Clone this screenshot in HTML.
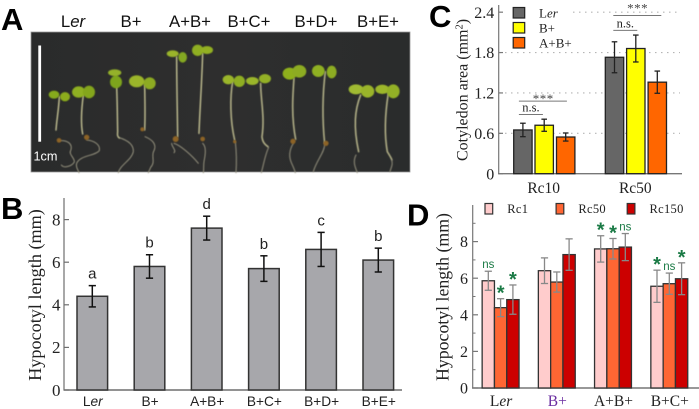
<!DOCTYPE html>
<html>
<head>
<meta charset="utf-8">
<style>
html,body{margin:0;padding:0;background:#fff}
svg{display:block}
.serif{font-family:"Liberation Serif",serif}
.sans{font-family:"Liberation Sans",sans-serif}
</style>
</head>
<body>
<svg id="fig" xmlns="http://www.w3.org/2000/svg" width="699" height="409" viewBox="0 0 699 409">
<defs>
<filter id="soft" x="-10%" y="-10%" width="120%" height="120%"><feGaussianBlur stdDeviation="1.6"/></filter>
<linearGradient id="bg" x1="0" y1="0" x2="1" y2="0"><stop offset="0" stop-color="#2a2b2b"/><stop offset="0.5" stop-color="#2e2e2e"/><stop offset="1" stop-color="#2a2c2c"/></linearGradient>
</defs>
<rect width="699" height="409" fill="#fff"/>

<g>
<text class="sans" x="1" y="30" font-size="31" font-weight="bold">A</text>
<g class="sans" font-size="16.8" fill="#111" text-anchor="middle">
<text x="73" y="27">L<tspan font-style="italic">er</tspan></text>
<text x="131" y="27">B+</text>
<text x="190" y="27">A+B+</text>
<text x="249" y="27">B+C+</text>
<text x="316" y="27">B+D+</text>
<text x="378" y="27">B+E+</text>
</g>
<rect x="31" y="32" width="379" height="140" fill="url(#bg)" stroke="#999" stroke-width="0.8"/>
<g transform="translate(30 30) scale(0.3333)">
<g filter="url(#soft)" fill="none" stroke-linecap="round">
<!-- roots -->
<g stroke="#96937f" stroke-width="3">
<path d="M88 332C110 330 130 340 122 362C115 372 135 385 133 396C125 410 100 415 94 405"/>
<path d="M170 330C190 332 212 342 208 362C196 378 150 375 140 400C136 412 145 420 147 428"/>
<path d="M265 322C285 328 312 340 310 365C305 390 270 405 265 428"/>
<path d="M345 320C370 330 380 345 372 362C362 378 378 395 362 412L355 428"/>
<path d="M432 340C450 345 485 375 505 400M425 340C425 350 440 362 432 368"/>
<path d="M518 340C530 350 526 375 522 395C520 410 522 420 520 428"/>
</g>
<g stroke="#b9b78c" stroke-width="4.5">
<path d="M88 200C86 240 80 270 78 300"/>
<path d="M160 195C154 240 152 280 158 312"/>
<path d="M260 170C262 220 262 260 263 305C262 315 262 320 268 324"/>
<path d="M344 165C345 210 346 260 344 300"/>
<path d="M440 80C440 150 442 240 443 320"/>
<path d="M518 70C516 150 510 230 507 310"/>
</g>
<g transform="translate(570 0)" stroke="#b9b78c" stroke-width="4.5">
<path d="M38 155C30 200 30 270 44 330"/>
<path d="M122 160C122 210 135 260 126 320C128 340 138 345 144 350"/>
<path d="M222 145C218 200 214 260 227 328"/>
<path d="M316 125C308 190 306 260 314 340"/>
<path d="M422 195C404 240 400 290 416 365"/>
<path d="M505 190C494 260 494 320 502 365C508 375 512 380 516 390"/>
</g>
<g transform="translate(570 0)" stroke="#96937f" stroke-width="3">
<path d="M46 335C50 370 50 400 48 428"/>
<path d="M146 352C135 375 132 400 124 428"/>
<path d="M220 340C205 365 208 385 215 400C222 415 224 420 226 428"/>
<path d="M314 345C312 370 290 390 280 425"/>
<path d="M408 375C398 395 405 410 412 428"/>
<path d="M515 390C520 405 512 415 510 425"/>
</g>
</g>
<!-- seed coats -->
<g filter="url(#soft)" fill="#8d6425">
<circle cx="87" cy="331" r="7"/><circle cx="170" cy="322" r="8"/><circle cx="337" cy="298" r="6"/>
<circle cx="437" cy="327" r="9"/><circle cx="518" cy="327" r="7"/>
<circle cx="614" cy="335" r="5"/><circle cx="789" cy="334" r="8"/><circle cx="888" cy="340" r="8"/>
</g>
<!-- cotyledons -->
<g filter="url(#soft)" fill="#8fb01c">
<ellipse cx="72" cy="194" rx="16" ry="12" fill="#86aa1a"/><ellipse cx="105" cy="200" rx="15" ry="14" fill="#8cac1e"/>
<ellipse cx="146" cy="186" rx="20" ry="17" fill="#8fb020"/><ellipse cx="177" cy="186" rx="18" ry="19" fill="#84a61c"/>
<ellipse cx="254" cy="128" rx="20" ry="10" fill="#95b12a"/><ellipse cx="258" cy="156" rx="18" ry="19" fill="#7ea41c"/>
<ellipse cx="320" cy="154" rx="23" ry="18" fill="#9bb52a"/><ellipse cx="359" cy="160" rx="18" ry="18" fill="#8dab24"/>
<ellipse cx="428" cy="71" rx="18" ry="10" fill="#9ab42c"/><ellipse cx="458" cy="82" rx="13" ry="16" fill="#84a822"/>
<ellipse cx="503" cy="61" rx="17" ry="17" fill="#8fae22"/><ellipse cx="531" cy="60" rx="18" ry="12" fill="#93b024"/>
<g transform="translate(570 0)">
<ellipse cx="25" cy="149" rx="17" ry="14" fill="#9ab52c"/><ellipse cx="58" cy="154" rx="17" ry="17" fill="#8fae24"/>
<ellipse cx="97" cy="153" rx="19" ry="12" fill="#9ab52c"/><ellipse cx="135" cy="146" rx="18" ry="14" fill="#93b026"/>
<ellipse cx="209" cy="131" rx="21" ry="18" fill="#8fb01e"/><ellipse cx="238" cy="124" rx="21" ry="19" fill="#8dac22"/>
<ellipse cx="295" cy="123" rx="19" ry="18" fill="#8fb022"/><ellipse cx="335" cy="126" rx="15" ry="19" fill="#8dac24"/>
<ellipse cx="408" cy="178" rx="22" ry="15" fill="#a0ba30"/><ellipse cx="443" cy="184" rx="20" ry="19" fill="#9ab42a"/>
<ellipse cx="487" cy="178" rx="21" ry="14" fill="#9cb62c"/><ellipse cx="520" cy="184" rx="19" ry="21" fill="#93b026"/>
</g>
</g>
</g>
<rect x="38.3" y="45.5" width="2.8" height="96.2" fill="#fff"/>
<text class="sans" x="33.5" y="160.5" font-size="12.7" fill="#fff">1cm</text>
</g>

<text class="sans" x="1" y="219" font-size="31" font-weight="bold">B</text>
<text class="sans" x="429" y="27" font-size="31" font-weight="bold">C</text>
<text class="sans" x="407" y="225.5" font-size="31" font-weight="bold">D</text>
<g id="chartB"></g>
<g id="chartC"></g>
<g id="chartD"></g>
</svg>

<script>
// Panel B data
const bCategories = ['Ler', 'B+', 'A+B+', 'B+C+', 'B+D+', 'B+E+'];
const bValues = [4.4, 5.8, 7.6, 5.7, 6.6, 6.1];
const bErrors = [0.5, 0.55, 0.56, 0.6, 0.8, 0.56];
const bLetters = ['a', 'b', 'd', 'b', 'c', 'b'];
const bTicks = [0, 2, 4, 6, 8];

// Panel C data
const cGroups = ['Rc10', 'Rc50'];
const cSeries = ['Ler', 'B+', 'A+B+'];
const cLer = [0.65, 1.73];
const cB = [0.72, 1.86];
const cAB = [0.545, 1.36];
const cLerErr = [0.1, 0.23];
const cBErr = [0.09, 0.2];
const cABErr = [0.06, 0.165];
const cTicks = [0, 0.6, 1.2, 1.8, 2.4];

// Panel D data
const dCategories = ['Ler', 'B+', 'A+B+', 'B+C+'];
const dSeries = ['Rc1', 'Rc50', 'Rc150'];
const dRc1 = [5.86, 6.41, 7.6, 5.56];
const dRc50 = [4.39, 5.79, 7.61, 5.7];
const dRc150 = [4.83, 7.29, 7.7, 5.97];
const dRc1Err = [0.52, 0.7, 0.72, 0.88];
const dRc50Err = [0.49, 0.55, 0.56, 0.58];
const dRc150Err = [0.8, 0.86, 0.74, 0.87];
const dRc1Marks = ['ns', '', '*', '*'];
const dRc50Marks = ['*', '', '*', 'ns'];
const dRc150Marks = ['*', '', 'ns', '*'];
const dTicks = [0, 2, 4, 6, 8];

const NS = 'http://www.w3.org/2000/svg';
function mk(parent, tag, attrs, text) {
  const el = document.createElementNS(NS, tag);
  for (const k in attrs) el.setAttribute(k, attrs[k]);
  if (text !== undefined) el.textContent = text;
  parent.appendChild(el);
  return el;
}
function labelWithItalic(el, s) {
  if (s === 'Ler') {
    el.textContent = 'L';
    const t = document.createElementNS(NS, 'tspan');
    t.setAttribute('font-style', 'italic');
    t.textContent = 'er';
    el.appendChild(t);
  } else {
    el.textContent = s;
  }
}
function nameEl(el, name) {
  
  
  return el;
}
function errBar(parent, x, yTop, yBot, cap, color, w, name) {
  const g = mk(parent, 'g', {stroke: color, 'stroke-width': w, fill: 'none'});
  
  
  mk(g, 'line', {x1: x, x2: x, y1: yTop, y2: yBot});
  mk(g, 'line', {x1: x - cap, x2: x + cap, y1: yTop, y2: yTop});
  mk(g, 'line', {x1: x - cap, x2: x + cap, y1: yBot, y2: yBot});
}

/* ---------- Panel B ---------- */
(function () {
  const root = document.getElementById('chartB');
  const y = v => 390 - v * 21.3;
  const x = i => 92.3 + i * 57.2;
  const axisColor = '#6e6e6e';
  nameEl(mk(root, 'line', {x1: 64, x2: 64, y1: 198, y2: 390, stroke: axisColor, 'stroke-width': 1.2}), 'y-axis');
  nameEl(mk(root, 'line', {x1: 63.5, x2: 402, y1: 390, y2: 390, stroke: axisColor, 'stroke-width': 1.4}), 'x-axis');
  bTicks.forEach(t => {
    nameEl(mk(root, 'line', {x1: 64, x2: 69, y1: y(t), y2: y(t), stroke: axisColor, 'stroke-width': 1.2}), 'y-tick');
    nameEl(mk(root, 'text', {x: 60.5, y: y(t) + 5.8, 'font-size': 17, 'text-anchor': 'end', class: 'serif', fill: '#222'}, t), 'y-tick-label');
  });
  nameEl(mk(root, 'text', {transform: 'translate(41 295) rotate(-90)', 'font-size': 18.2, 'text-anchor': 'middle', class: 'serif', fill: '#222'}, 'Hypocotyl length (mm)'), 'y-axis-title');
  bValues.forEach((v, i) => {
    nameEl(mk(root, 'rect', {x: x(i) - 15.3, y: y(v), width: 30.6, height: 390 - y(v), fill: '#a7a7ab', stroke: '#333', 'stroke-width': 1.5}), 'bar-' + bCategories[i]);
    errBar(root, x(i), y(v + bErrors[i]), y(v - bErrors[i]), 3.6, '#111', 1.5, 'error-bar-' + bCategories[i]);
    nameEl(mk(root, 'text', {x: x(i), y: y(v + bErrors[i]) - 7, 'font-size': 15, 'text-anchor': 'middle', class: 'sans', fill: '#222'}, bLetters[i]), 'significance-letter');
    const lbl = mk(root, 'text', {x: x(i) + 0.5, y: 406, 'font-size': 13.7, 'text-anchor': 'middle', class: 'sans', fill: '#222'});
    labelWithItalic(lbl, bCategories[i]);
    nameEl(lbl, 'x-tick-label');
  });
})();

/* ---------- Panel C ---------- */
(function () {
  const root = document.getElementById('chartC');
  const y = v => 173.7 - v * 67.3;
  const groupX = [544.2, 635.8];
  const offs = [-21.3, 0, 21.5];
  const insets = [-4, -1.2];
  const ruleGaps = [18, 19.5];
  const starDrops = [1.7, -3];
  const colors = ['#666666', '#ffff00', '#ff6600'];
  const values = [cLer, cB, cAB];
  const errs = [cLerErr, cBErr, cABErr];
  const axisColor = '#777';
  cTicks.slice(1).forEach(t => {
    nameEl(mk(root, 'line', {x1: t === 2.4 ? 573 : 499, x2: 680, y1: y(t), y2: y(t), stroke: '#b5b5b5', 'stroke-width': 1.2, 'stroke-dasharray': '1.5 4.5'}), 'grid-line');
  });
  nameEl(mk(root, 'line', {x1: 498.7, x2: 498.7, y1: 5, y2: 173.7, stroke: axisColor, 'stroke-width': 1.2}), 'y-axis');
  nameEl(mk(root, 'line', {x1: 498, x2: 682, y1: 173.7, y2: 173.7, stroke: axisColor, 'stroke-width': 1.4}), 'x-axis');
  cTicks.forEach(t => {
    nameEl(mk(root, 'line', {x1: 498.7, x2: 503, y1: y(t), y2: y(t), stroke: axisColor, 'stroke-width': 1.2}), 'y-tick');
    nameEl(mk(root, 'text', {x: 494.3, y: y(t) + 5.6, 'font-size': 16, 'text-anchor': 'end', class: 'serif', fill: '#222'}, t === 0 ? '0' : t.toFixed(1)), 'y-tick-label');
  });
  const title = nameEl(mk(root, 'text', {transform: 'translate(467.5 90) rotate(-90)', 'font-size': 16, 'text-anchor': 'middle', class: 'serif', fill: '#222'}), 'y-axis-title');
  title.textContent = 'Cotyledon area (mm';
  const sup = document.createElementNS(NS, 'tspan');
  sup.setAttribute('dy', '-5');
  sup.setAttribute('font-size', '10.5');
  sup.textContent = '2';
  title.appendChild(sup);
  const close = document.createElementNS(NS, 'tspan');
  close.setAttribute('dy', '5');
  close.textContent = ')';
  title.appendChild(close);
  cGroups.forEach((g, gi) => {
    values.forEach((s, si) => {
      const cx = groupX[gi] + offs[si];
      nameEl(mk(root, 'rect', {x: cx - 9.2, y: y(s[gi]), width: 18.4, height: 173.7 - y(s[gi]), fill: colors[si], stroke: '#222', 'stroke-width': 1.3}), 'bar-' + g + '-' + cSeries[si]);
      errBar(root, cx, y(s[gi] + errs[si][gi]), y(s[gi] - errs[si][gi]), 2.8, '#222', 1.3, 'error-bar-' + g + '-' + cSeries[si]);
    });
    nameEl(mk(root, 'text', {x: groupX[gi] - 0.5, y: 193, 'font-size': 15.5, 'text-anchor': 'middle', class: 'serif', fill: '#222'}, g), 'x-tick-label');
    // significance brackets follow the tallest error bar of the group
    const base = y(cB[gi] + cBErr[gi]);
    const xL = groupX[gi] + offs[0] + insets[gi];
    nameEl(mk(root, 'line', {x1: xL, x2: xL + 24, y1: base - 4.7, y2: base - 4.7, stroke: '#777', 'stroke-width': 1}), 'ns-bracket');
    nameEl(mk(root, 'text', {x: xL + 12, y: base - 7.5, 'font-size': 12.5, 'text-anchor': 'middle', class: 'serif', fill: '#222'}, 'n.s.'), 'ns-label');
    nameEl(mk(root, 'line', {x1: xL, x2: xL + 48, y1: base - ruleGaps[gi], y2: base - ruleGaps[gi], stroke: '#777', 'stroke-width': 1}), 'significance-bracket');
    nameEl(mk(root, 'text', {x: xL + 24.3, y: base - ruleGaps[gi] + starDrops[gi], 'font-size': 13, 'text-anchor': 'middle', class: 'serif', fill: '#444', 'letter-spacing': '0.5'}, '***'), 'significance-stars');
  });
  cSeries.forEach((s, i) => {
    const ly = 7.5 + i * 15;
    nameEl(mk(root, 'rect', {x: 513.2, y: ly, width: 11.5, height: 10.5, fill: colors[i], stroke: '#222', 'stroke-width': 1.2}), 'legend-swatch-' + s);
    const t = mk(root, 'text', {x: 539, y: ly + 10, 'font-size': 13, class: 'serif', fill: '#222'});
    labelWithItalic(t, s);
    nameEl(t, 'legend-label-' + s);
  });
})();

/* ---------- Panel D ---------- */
(function () {
  const root = document.getElementById('chartD');
  const y = v => 388 - v * 18.3;
  const groupX = [500.6, 556.8, 613, 669.3];
  const offs = [-12.3, 0, 12.3];
  const colors = ['#ffcccc', '#ff6633', '#cc0000'];
  const values = [dRc1, dRc50, dRc150];
  const errs = [dRc1Err, dRc50Err, dRc150Err];
  const marks = [dRc1Marks, dRc50Marks, dRc150Marks];
  const catColors = ['#222', '#6a2ca0', '#222', '#222'];
  const axisColor = '#777';
  nameEl(mk(root, 'line', {x1: 472.7, x2: 472.7, y1: 205, y2: 388, stroke: axisColor, 'stroke-width': 1.2}), 'y-axis');
  nameEl(mk(root, 'line', {x1: 472, x2: 699, y1: 388, y2: 388, stroke: axisColor, 'stroke-width': 1.4}), 'x-axis');
  dTicks.forEach(t => {
    nameEl(mk(root, 'line', {x1: 472.7, x2: 478, y1: y(t), y2: y(t), stroke: axisColor, 'stroke-width': 1.2}), 'y-tick');
    nameEl(mk(root, 'line', {x1: 472.7, x2: 475.5, y1: y(t + 1), y2: y(t + 1), stroke: axisColor, 'stroke-width': 1}), 'y-minor-tick');
    nameEl(mk(root, 'text', {x: 468, y: y(t) + 5.6, 'font-size': 16, 'text-anchor': 'end', class: 'serif', fill: '#222'}, t), 'y-tick-label');
  });
  nameEl(mk(root, 'text', {transform: 'translate(448.5 297) rotate(-90)', 'font-size': 17.8, 'text-anchor': 'middle', class: 'serif', fill: '#222'}, 'Hypocotyl length (mm)'), 'y-axis-title');
  dCategories.forEach((c, gi) => {
    values.forEach((s, si) => {
      const cx = groupX[gi] + offs[si];
      nameEl(mk(root, 'rect', {x: cx - 6.15, y: y(s[gi]), width: 12.3, height: 388 - y(s[gi]), fill: colors[si], stroke: '#333', 'stroke-width': 1.3}), 'bar-' + c + '-' + dSeries[si]);
      errBar(root, cx, y(s[gi] + errs[si][gi]), y(s[gi] - errs[si][gi]), 3.6, '#888', 1.3, 'error-bar-' + c + '-' + dSeries[si]);
      const m = marks[si][gi];
      if (m === '*') {
        nameEl(mk(root, 'text', {x: cx, y: y(s[gi] + errs[si][gi]) + 1, 'font-size': 20, 'font-weight': 'bold', 'text-anchor': 'middle', class: 'sans', fill: '#1a7a45'}, '*'), 'significance-star');
      } else if (m === 'ns') {
        nameEl(mk(root, 'text', {x: cx, y: y(s[gi] + errs[si][gi]) - 3, 'font-size': 11.5, 'text-anchor': 'middle', class: 'sans', fill: '#1a7a45'}, 'ns'), 'significance-ns');
      }
    });
    const lbl = mk(root, 'text', {x: groupX[gi] + 0.5, y: 406, 'font-size': 15.5, 'text-anchor': 'middle', class: 'serif', fill: catColors[gi]});
    labelWithItalic(lbl, c);
    nameEl(lbl, 'x-tick-label');
  });
  dSeries.forEach((s, i) => {
    const lx = 485 + i * 71.1;
    nameEl(mk(root, 'rect', {x: lx, y: 203.5, width: 7.7, height: 10.5, fill: colors[i], stroke: '#333', 'stroke-width': 1.2}), 'legend-swatch-' + s);
    nameEl(mk(root, 'text', {x: lx + 22.3, y: 213, 'font-size': 12.5, 'letter-spacing': '0.3', class: 'serif', fill: '#222'}, s), 'legend-label-' + s);
  });
})();
</script>
</body>
</html>
